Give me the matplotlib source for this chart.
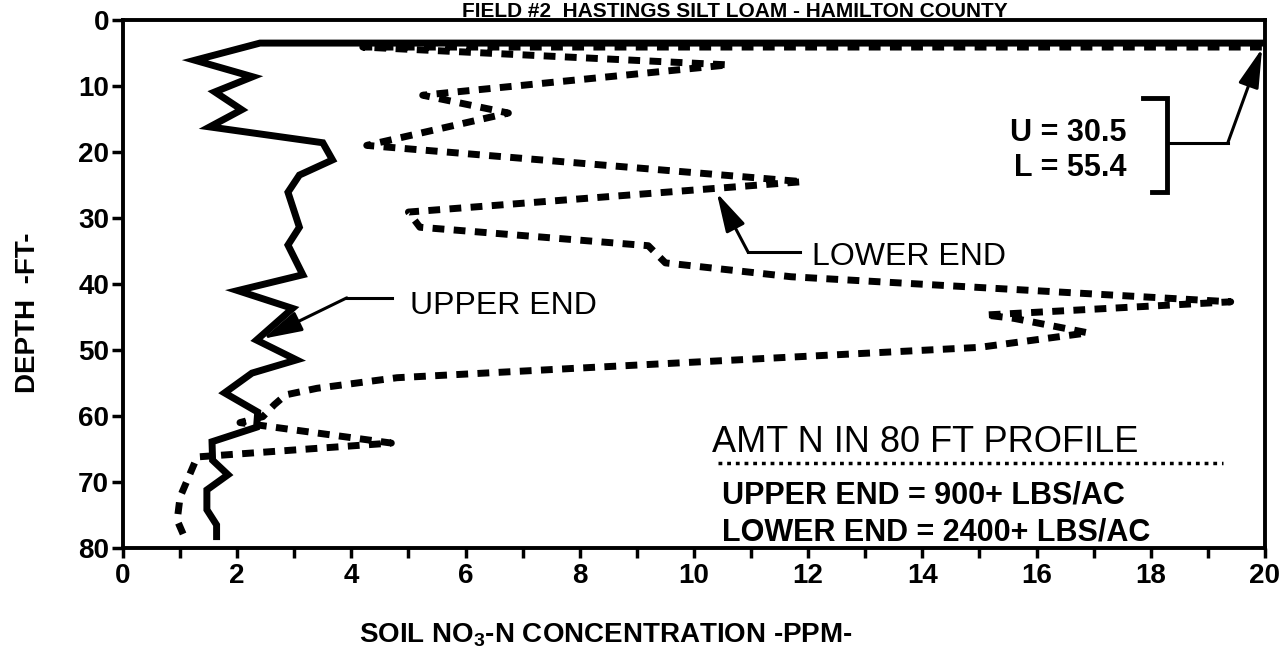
import matplotlib
matplotlib.use("Agg")
import matplotlib.pyplot as plt
from matplotlib import font_manager
from matplotlib.ticker import MultipleLocator

# ---------------- data ----------------
# UPPER END profile (solid line); first value is off-scale (U = 30.5)
upper_ppm = [30.5, 2.40, 1.26, 2.27, 1.61, 2.08, 1.52, 3.50, 3.67, 3.09, 2.89,
             3.09, 2.89, 3.15, 2.01, 2.97, 2.34, 3.04, 2.26, 1.78, 2.36, 2.34,
             1.56, 1.57, 1.84, 1.47, 1.47, 1.64, 1.64]
upper_depth = [3.5, 3.5, 6.1, 8.6, 10.9, 13.6, 16.2, 18.6, 21.2, 23.5, 26.1,
               31.4, 34.1, 38.6, 41.0, 43.7, 48.5, 51.5, 53.5, 56.5, 59.4, 61.7,
               63.9, 66.7, 68.9, 71.2, 74.2, 76.5, 78.8]

# LOWER END profile (dashed line); first value is off-scale (L = 55.4)
lower_ppm = [55.4, 4.2, 10.6, 5.25, 6.75, 4.27, 11.9, 5.0, 5.2, 9.2, 9.5, 11.7,
             19.4, 15.1, 15.6, 16.9, 15.0, 8.3, 4.8, 3.4, 2.85, 2.65, 2.45, 2.05,
             4.7, 1.3, 1.0, 0.95, 1.1]
lower_depth = [4.1, 4.1, 6.8, 11.4, 14.1, 19.0, 24.5, 29.1, 31.4, 34.2, 36.8, 38.9,
               42.7, 44.7, 45.2, 47.4, 49.6, 52.6, 54.2, 55.8, 56.8, 58.3, 60.1, 61.0,
               64.1, 66.2, 72.3, 75.8, 78.8]

x_ticks = [0, 2, 4, 6, 8, 10, 12, 14, 16, 18, 20]
y_ticks = [0, 10, 20, 30, 40, 50, 60, 70, 80]

title = "FIELD #2  HASTINGS SILT LOAM - HAMILTON COUNTY"
x_label = "SOIL NO$_\\mathbf{3}$-N CONCENTRATION -PPM-"
y_label = "DEPTH  -FT-"
offscale_lines = ["U = 30.5", "L = 55.4"]
amt_title = "AMT N IN 80 FT PROFILE"
amt_lines = ["UPPER END = 900+ LBS/AC", "LOWER END = 2400+ LBS/AC"]

# ---------------- fonts ----------------
names = {f.name for f in font_manager.fontManager.ttflist}
FONT = "Liberation Sans" if "Liberation Sans" in names else "DejaVu Sans"
plt.rcParams["font.family"] = [FONT, "DejaVu Sans"]
plt.rcParams["mathtext.fontset"] = "custom"
plt.rcParams["mathtext.rm"] = FONT
plt.rcParams["mathtext.bf"] = FONT + ":bold"

# ---------------- figure ----------------
fig = plt.figure(figsize=(12.82, 6.64), dpi=100)
ax = fig.add_axes([0.0959, 0.1747, 0.8908, 0.7952])

ax.plot(upper_ppm, upper_depth, color="black", lw=5, solid_joinstyle="miter",
        solid_capstyle="butt")
ax.plot(lower_ppm, lower_depth, color="black", lw=5,
        linestyle=(0, (1.7, 1.35)), dash_capstyle="butt")

ax.set_xlim(0, 20)
ax.set_ylim(80, 0)
ax.set_xticks(x_ticks)
ax.set_xticklabels([str(v) for v in x_ticks])
ax.xaxis.set_minor_locator(MultipleLocator(1))
ax.set_yticks(y_ticks)
ax.set_yticklabels([str(v) for v in y_ticks])

for s in ax.spines.values():
    s.set_linewidth(2.8)
ax.tick_params(axis="both", which="both", direction="out", width=2.5,
               length=7, labelsize=20, pad=4)
ax.tick_params(axis="y", length=8, pad=2)
for lab in ax.get_xticklabels() + ax.get_yticklabels():
    lab.set_fontweight("bold")

ax.set_xlabel(x_label, fontsize=20, fontweight="bold")
ax.xaxis.set_label_coords(0.423, -0.138)
ax.set_ylabel(y_label, fontsize=20, fontweight="bold")
ax.yaxis.set_label_coords(-0.072, 0.445)

fig.text(0.573, 0.975, title, fontsize=15, fontweight="bold",
         ha="center", va="baseline")

# ---------------- annotations ----------------
arrow_kw = dict(arrowstyle="-|>,head_length=1.2,head_width=0.32",
                lw=2.2, color="black", shrinkA=0, shrinkB=0, mutation_scale=20)

# UPPER END
ax.text(5.03, 44.5, "UPPER END", fontsize=23, ha="left", va="baseline")
ax.plot([4.71, 3.92], [42.1, 42.1], color="black", lw=2.2)
ax.annotate("", xy=(2.45, 48.3), xytext=(3.92, 42.1), arrowprops=arrow_kw)

# LOWER END
ax.text(12.07, 37.1, "LOWER END", fontsize=23, ha="left", va="baseline")
ax.plot([11.86, 10.95], [35.2, 35.2], color="black", lw=2.2)
ax.annotate("", xy=(10.4, 26.2), xytext=(10.95, 35.2), arrowprops=arrow_kw)

# off-scale values with bracket
ax.text(17.58, 18.3, offscale_lines[0], fontsize=22, fontweight="bold",
        ha="right", va="baseline")
ax.text(17.58, 23.6, offscale_lines[1], fontsize=22, fontweight="bold",
        ha="right", va="baseline")
ax.plot([17.86, 18.28, 18.28, 18.02], [11.8, 11.8, 26.1, 26.1], color="black",
        lw=3.5, solid_joinstyle="miter")
ax.plot([18.28, 19.35], [18.6, 18.6], color="black", lw=2.2)
ax.annotate("", xy=(19.95, 4.3), xytext=(19.35, 18.6), arrowprops=arrow_kw)

# amount box
ax.text(10.32, 65.5, amt_title, fontsize=26, ha="left", va="baseline")
ax.plot([10.42, 19.26], [67.1, 67.1], color="black", lw=2.5,
        linestyle=(0, (1.1, 1.4)))
ax.text(10.49, 73.2, amt_lines[0], fontsize=22, fontweight="bold",
        ha="left", va="baseline")
ax.text(10.49, 78.9, amt_lines[1], fontsize=22, fontweight="bold",
        ha="left", va="baseline")

fig.savefig("out.png", dpi=100, facecolor="white")
